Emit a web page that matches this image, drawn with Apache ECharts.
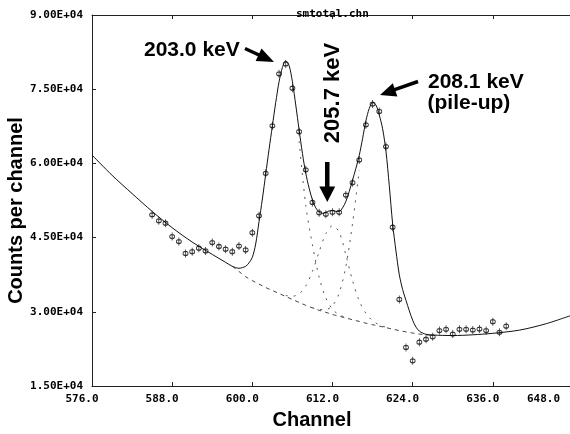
<!DOCTYPE html>
<html><head><meta charset="utf-8">
<script src="https://cdn.jsdelivr.net/npm/echarts@6/dist/echarts.min.js"></script>
<style>html,body{margin:0;padding:0;background:#fff}#c{width:570px;height:434px}</style>
</head><body><div id="c"></div>
<script>
// ---- data ----
const xTicks = [576, 588, 600, 612, 624, 636, 648];
const yTicks = [15000, 30000, 45000, 60000, 75000, 90000];

// measured counts (data points with error bars)
const channels = [585,586,587,588,589,590,591,592,593,594,595,596,597,598,599,600,601,602,603,604,605,606,607,608,609,610,611,612,613,614,615,616,617,618,619,620,621,622,623,624,625,626,627,628,629,630,631,632,633,634,635,636,637,638];
const counts = [49600,48400,47900,45200,44200,41800,42150,42850,42300,44000,43200,42650,42150,43300,42500,46000,49400,58000,67600,78100,80100,75200,66400,58700,52100,50000,49700,50100,50100,53600,56100,60700,67800,72000,70500,63400,47100,32500,22800,20100,23850,24450,24950,26200,26450,25500,26450,26450,26300,26500,26200,28000,25850,27100];

// total fitted curve (solid)
const fitX = [576,579,582,585,588,591,594,596,597,598,599,599.5,600,600.5,601,601.5,602,602.5,603,603.5,604,604.5,605,605.5,606,606.5,607,607.5,608,608.5,609,609.5,610,610.5,611,611.5,612,612.5,613,613.5,614,614.5,615,615.5,616,616.5,617,617.5,618,618.5,619,619.5,620,620.5,621,621.5,622,622.5,623,623.5,624,624.5,625,625.5,626,627,630,633,636,640,644,648];
const fitY = [61700,57600,53900,50300,47000,44100,41600,40000,39200,38800,39200,39900,41000,43700,48200,52800,57800,62800,67600,72300,76500,79400,80700,79800,76500,71800,66800,62000,58000,55000,52600,51000,50200,49900,50100,50400,50500,50300,50300,51000,52300,54300,56600,59000,61600,65000,68600,71100,72300,71800,69800,67000,62500,55500,47800,42300,37500,34500,32300,30200,28300,26900,26100,25700,25450,25300,25200,25350,25650,26300,27600,29400];

// background under the peaks (dashed)
const bgX = [597,598,599,600,601,602,603,604,605,606,607,608,609,610,611,612,613,614,615,616,617,618,619,620,621,622,623,624,625,626,627];
const bgY = [39200,38150,37100,36300,35600,34900,34300,33700,33100,32500,31900,31300,30800,30300,29900,29450,29100,28750,28400,28050,27700,27400,27100,26800,26500,26200,25950,25700,25500,25350,25250];

// peak components on background (dotted)
const p1X = [607,608,609,610,611,612,613,614];
const p1Y = [64500,51500,43500,37000,32800,30500,29400,28850];
const p2X = [605,606,607,608,609,610,611,612,613,614,615,616,617,618,619,620];
const p2Y = [33300,33140,33620,35200,38200,42130,45780,47390,46130,41500,36300,32200,29700,28200,27350,26890];
const p3X = [609,610,611,612,613,614,615,616];
const p3Y = [30830,30450,30460,31220,33790,39160,47860,58610];

const zip = (xs, ys) => xs.map((x, i) => [x, ys[i]]);

const mono = 'DejaVu Sans Mono';
const chart = echarts.init(document.getElementById('c'), null, {renderer: 'canvas'});

const lineBase = {type: 'line', showSymbol: false, symbol: 'none', silent: true, smooth: 0.3, z: 3};
const dotted = {color: '#555', width: 1, type: [2, 6]};

chart.setOption({
  animation: false,
  backgroundColor: '#fff',
  title: {
    text: 'smtotal.chn', left: 291, top: 4,
    textStyle: {fontFamily: mono, fontSize: 11, fontWeight: 'bold', color: '#000'}
  },
  grid: {left: 92, top: 15, right: -3, bottom: 48, outerBoundsMode: 'none', containLabel: false},
  xAxis: [{
    type: 'value', min: xTicks[0], max: xTicks[xTicks.length - 1], interval: 12,
    axisLine: {lineStyle: {color: '#222', width: 1}},
    axisTick: {inside: true, length: 4, lineStyle: {color: '#222'}},
    splitLine: {show: false},
    axisLabel: {
      color: '#000', fontFamily: mono, fontSize: 11, fontWeight: 'bold', margin: 8,
      alignMaxLabel: 'right',
      formatter: v => (v === xTicks[xTicks.length - 1] ? '{e|' : '{n|') + v.toFixed(1) + '}',
      rich: {
        n: {fontFamily: mono, fontSize: 11, fontWeight: 'bold', color: '#000', padding: [0, 20, 0, 0]},
        e: {fontFamily: mono, fontSize: 11, fontWeight: 'bold', color: '#000', padding: [0, 13, 0, 0]}
      }
    }
  }, {
    type: 'value', position: 'top', min: xTicks[0], max: xTicks[xTicks.length - 1], interval: 12,
    axisLine: {show: true, lineStyle: {color: '#222', width: 1}},
    axisTick: {show: true, inside: true, length: 4, lineStyle: {color: '#222'}},
    axisLabel: {show: false}, splitLine: {show: false}
  }],
  yAxis: {
    type: 'value', min: yTicks[0], max: yTicks[yTicks.length - 1], interval: 15000,
    axisLine: {show: true, lineStyle: {color: '#222', width: 1}},
    axisTick: {show: true, inside: true, length: 4, lineStyle: {color: '#222'}},
    splitLine: {show: false},
    axisLabel: {
      color: '#000', fontFamily: mono, fontSize: 11, fontWeight: 'bold', margin: 9,
      formatter: v => (v / 1e4).toFixed(2) + 'E+04'
    }
  },
  series: [
    Object.assign({}, lineBase, {name: 'fit', data: zip(fitX, fitY), lineStyle: {color: '#111', width: 1}, z: 4}),
    Object.assign({}, lineBase, {name: 'bg', data: zip(bgX, bgY), lineStyle: {color: '#444', width: 1, type: [4, 4]}}),
    Object.assign({}, lineBase, {name: 'p1', data: zip(p1X, p1Y), lineStyle: dotted}),
    Object.assign({}, lineBase, {name: 'p2', data: zip(p2X, p2Y), lineStyle: dotted}),
    Object.assign({}, lineBase, {name: 'p3', data: zip(p3X, p3Y), lineStyle: dotted}),
    {
      type: 'scatter', name: 'counts', data: zip(channels, counts), z: 6, silent: true,
      symbol: 'path://M2,0L2,8M0,4a2,2 0 1,0 4,0a2,2 0 1,0 -4,0',
      symbolSize: [5, 8],
      itemStyle: {color: 'rgba(0,0,0,0)', borderColor: '#000', borderWidth: 1}
    }
  ],
  graphic: [
    {type: 'text', x: 16, y: 210.5, rotation: Math.PI / 2,
     style: {text: 'Counts per channel', font: 'bold 20px "Liberation Sans"', fill: '#000', align: 'center', verticalAlign: 'middle'}},
    {type: 'text', x: 312, y: 420,
     style: {text: 'Channel', font: 'bold 20px "Liberation Sans"', fill: '#000', align: 'center', verticalAlign: 'middle'}},
    {type: 'text', x: 144, y: 50,
     style: {text: '203.0 keV', font: 'bold 21px "Liberation Sans"', fill: '#000', align: 'left', verticalAlign: 'middle'}},
    {type: 'text', x: 332.5, y: 93, rotation: Math.PI / 2,
     style: {text: '205.7 keV', font: 'bold 22px "Liberation Sans"', fill: '#000', align: 'center', verticalAlign: 'middle'}},
    {type: 'text', x: 428, y: 82.5,
     style: {text: '208.1 keV', font: 'bold 21px "Liberation Sans"', fill: '#000', align: 'left', verticalAlign: 'middle'}},
    {type: 'text', x: 427.5, y: 103,
     style: {text: '(pile-up)', font: 'bold 21px "Liberation Sans"', fill: '#000', align: 'left', verticalAlign: 'middle'}},
    // arrow to 203.0 keV peak
    {type: 'line', shape: {x1: 245, y1: 48.5, x2: 260, y2: 55.5}, style: {stroke: '#000', lineWidth: 3.5}},
    {type: 'polygon', shape: {points: [[274, 62], [255.6, 61.1], [261.5, 48.5]]}, style: {fill: '#000'}},
    // arrow down to 205.7 keV
    {type: 'rect', shape: {x: 325, y: 162, width: 4.5, height: 26}, style: {fill: '#000'}},
    {type: 'polygon', shape: {points: [[319.3, 186.5], [335.2, 186.5], [327.3, 202]]}, style: {fill: '#000'}},
    // arrow to 208.1 keV peak
    {type: 'line', shape: {x1: 418, y1: 81.5, x2: 394, y2: 89.8}, style: {stroke: '#000', lineWidth: 3.5}},
    {type: 'polygon', shape: {points: [[380, 95], [397.4, 96.4], [392.8, 83.2]]}, style: {fill: '#000'}}
  ]
});
</script>
</body></html>
